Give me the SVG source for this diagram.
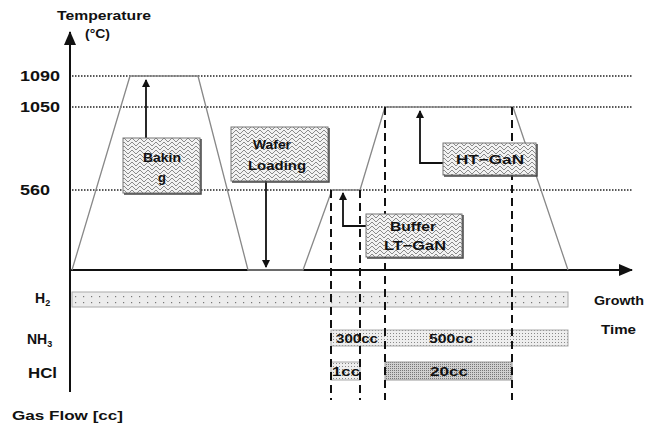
<svg xmlns="http://www.w3.org/2000/svg" width="651" height="433" viewBox="0 0 651 433">
<style>
text{font-family:"Liberation Sans",Arial,sans-serif;font-weight:bold;font-size:13px;fill:#111}
.ax{stroke:#111;stroke-width:2;fill:none}
.dot{stroke:#222;stroke-width:1.3;stroke-dasharray:1.5 1.5;fill:none}
.dash{stroke:#111;stroke-width:2;stroke-dasharray:8 5;fill:none}
.prof{stroke:#888;stroke-width:1.3;fill:none}
.conn{stroke:#111;stroke-width:1.8;fill:none}
.box{fill:url(#herr);stroke:#777;stroke-width:1}
.sh{stroke:#444;stroke-width:1.5;fill:none}
.c{text-anchor:middle}
.lab{font-size:14px}
</style>
<defs>
<pattern id="herr" width="8" height="8" patternUnits="userSpaceOnUse">
<rect width="8" height="8" fill="#f2f2f2"/>
<path d="M0,6 L4,2 L8,6 M0,2 L2,0 M6,0 L8,2 M2,8 L4,6 L6,8" stroke="#8a8a8a" stroke-width="1" fill="none"/>
</pattern>
<pattern id="h2p" width="8" height="6" patternUnits="userSpaceOnUse">
<rect width="8" height="6" fill="#ececec"/>
<rect x="3" y="2" width="1.2" height="1.2" fill="#777"/>
</pattern>
<pattern id="nh3p" width="3" height="3" patternUnits="userSpaceOnUse">
<rect width="3" height="3" fill="#eeeeee"/>
<rect x="0" y="0" width="1" height="1" fill="#888"/>
</pattern>
<pattern id="hclp" width="2" height="2" patternUnits="userSpaceOnUse">
<rect width="2" height="2" fill="#d0d0d0"/>
<rect x="0" y="0" width="1" height="1" fill="#777"/>
</pattern>
<marker id="arr" markerWidth="8" markerHeight="8" refX="7" refY="4" orient="auto" markerUnits="userSpaceOnUse">
<path d="M0,0 L8,4 L0,8 Z" fill="#111"/>
</marker>
<marker id="arrBig" markerWidth="14" markerHeight="12" refX="13" refY="6" orient="auto" markerUnits="userSpaceOnUse">
<path d="M0,0 L14,6 L0,12 Z" fill="#111"/>
</marker>
</defs>

<g id="axes">
<line class="ax" x1="70" y1="392" x2="70" y2="32" marker-end="url(#arrBig)"/>
<line class="ax" x1="70" y1="270" x2="632" y2="270" marker-end="url(#arrBig)"/>
<text x="57" y="20" textLength="94" lengthAdjust="spacingAndGlyphs">Temperature</text>
<text x="85" y="38" textLength="25" lengthAdjust="spacingAndGlyphs">(°C)</text>
<text x="20" y="81" textLength="40" lengthAdjust="spacingAndGlyphs" class="lab">1090</text>
<text x="20" y="112" textLength="40" lengthAdjust="spacingAndGlyphs" class="lab">1050</text>
<text x="20" y="195" textLength="30" lengthAdjust="spacingAndGlyphs" class="lab">560</text>
<text x="594" y="305" textLength="50" lengthAdjust="spacingAndGlyphs">Growth</text>
<text x="601" y="334" textLength="35" lengthAdjust="spacingAndGlyphs">Time</text>
<text x="35" y="303" class="lab">H<tspan font-size="9" dy="3">2</tspan></text>
<text x="27" y="344" class="lab">NH<tspan font-size="9" dy="3">3</tspan></text>
<text x="28" y="378" class="lab" textLength="29" lengthAdjust="spacingAndGlyphs">HCl</text>
<text x="12" y="420" textLength="111" lengthAdjust="spacingAndGlyphs">Gas Flow [cc]</text>
</g>

<g id="gridlines">
<line class="dot" x1="72" y1="76" x2="632" y2="76"/>
<line class="dot" x1="72" y1="107" x2="632" y2="107"/>
<line class="dot" x1="72" y1="190" x2="632" y2="190"/>
</g>

<g id="profile">
<polyline class="prof" points="72,270 130,76 198,76 248,270 303,270 332,190 360,190 385,107 513,107 568,270"/>
</g>

<g id="gasbars">
<rect x="72" y="292" width="496" height="15" fill="url(#h2p)" stroke="#aaa" stroke-width="1"/>
<rect x="331" y="330" width="237" height="16" fill="url(#nh3p)" stroke="#aaa" stroke-width="1"/>
<rect x="331" y="362" width="29" height="18" fill="url(#nh3p)" stroke="#aaa" stroke-width="1"/>
<rect x="385" y="362" width="127" height="18" fill="url(#hclp)" stroke="#999" stroke-width="1"/>
<text x="357" y="343" class="c" textLength="42" lengthAdjust="spacingAndGlyphs">300cc</text>
<text x="451" y="343" class="c" textLength="44" lengthAdjust="spacingAndGlyphs">500cc</text>
<text x="346" y="376" class="c" textLength="28" lengthAdjust="spacingAndGlyphs">1cc</text>
<text x="449" y="376" class="c" textLength="38" lengthAdjust="spacingAndGlyphs">20cc</text>
</g>

<g id="dashes">
<line class="dash" x1="331" y1="190" x2="331" y2="400"/>
<line class="dash" x1="360" y1="190" x2="360" y2="400"/>
<line class="dash" x1="385" y1="107" x2="385" y2="400"/>
<line class="dash" x1="512" y1="107" x2="512" y2="400"/>
</g>

<g id="connectors">
<line class="conn" x1="146" y1="138" x2="146" y2="80" marker-end="url(#arr)"/>
<line class="conn" x1="266" y1="181" x2="266" y2="267" marker-end="url(#arr)"/>
<polyline class="conn" points="443,163 420,163 420,111" marker-end="url(#arr)"/>
<polyline class="conn" points="366,226 343,226 343,193" marker-end="url(#arr)"/>
</g>

<g id="node-baking">
<rect class="box" x="123" y="138" width="77" height="55"/>
<polyline class="sh" points="201,139 201,194 124,194"/>
<text x="162" y="162" class="c" textLength="38" lengthAdjust="spacingAndGlyphs">Bakin</text>
<text x="162" y="182" class="c">g</text>
</g>

<g id="node-wafer">
<rect class="box" x="231" y="127" width="97" height="54"/>
<polyline class="sh" points="329,128 329,182 232,182"/>
<text x="272" y="149" class="c" textLength="38" lengthAdjust="spacingAndGlyphs">Wafer</text>
<text x="277" y="170" class="c" textLength="58" lengthAdjust="spacingAndGlyphs">Loading</text>
</g>

<g id="node-ht">
<rect class="box" x="443" y="143" width="93" height="32"/>
<polyline class="sh" points="537,144 537,176 444,176"/>
<text x="490" y="164" class="c" textLength="68" lengthAdjust="spacingAndGlyphs">HT−GaN</text>
</g>

<g id="node-buffer">
<rect class="box" x="366" y="214" width="96" height="43"/>
<polyline class="sh" points="463,215 463,258 367,258"/>
<text x="413" y="231" class="c" textLength="46" lengthAdjust="spacingAndGlyphs">Buffer</text>
<text x="415" y="250" class="c" textLength="62" lengthAdjust="spacingAndGlyphs">LT−GaN</text>
</g>
</svg>
